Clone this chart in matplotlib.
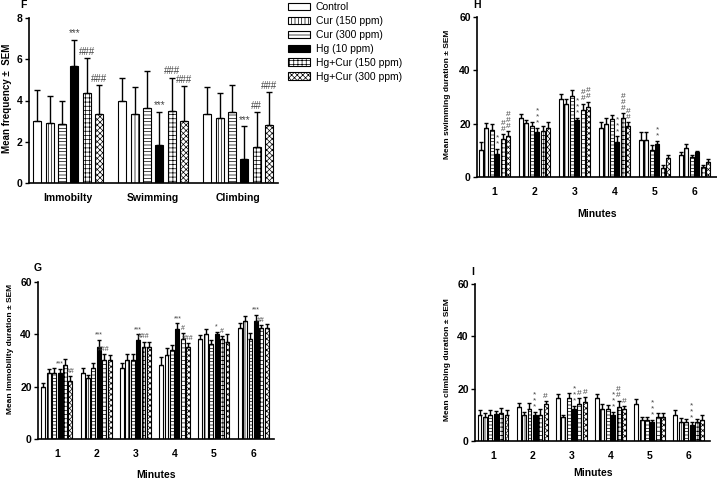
import matplotlib
matplotlib.use('Agg')
import matplotlib.pyplot as plt
import numpy as np
from matplotlib.patches import Patch

plt.rcParams['font.family'] = ['Liberation Sans', 'DejaVu Sans']
plt.rcParams['hatch.linewidth'] = 0.5

# ---------------- data ----------------
series = ['Control', 'Cur (150 ppm)', 'Cur (300 ppm)', 'Hg (10 ppm)',
          'Hg+Cur (150 ppm)', 'Hg+Cur (300 ppm)']

# Panel F: mean frequency
f_categories = ['Immobilty', 'Swimming', 'Climbing']
f_means = [[3.0, 4.0, 3.35],
           [2.9, 3.35, 3.15],
           [2.85, 3.65, 3.45],
           [5.65, 1.85, 1.15],
           [4.35, 3.5, 1.75],
           [3.35, 3.0, 2.8]]
f_sems = [[1.5, 1.1, 1.3],
          [1.3, 1.3, 1.2],
          [1.12, 1.8, 1.3],
          [1.3, 1.6, 1.6],
          [1.7, 1.6, 1.7],
          [1.4, 1.7, 1.6]]
f_marks = [['', '', ''], ['', '', ''], ['', '', ''],
           ['***', '***', '***'],
           ['###', '###', '##'],
           ['###', '###', '###']]

minutes = ['1', '2', '3', '4', '5', '6']

# Panel H: swimming duration
h_means = [[10.3, 22.2, 29.2, 18.3, 14.0, 8.3],
           [18.2, 20.2, 27.3, 20.0, 14.0, 11.0],
           [17.8, 19.3, 30.3, 21.8, 10.3, 7.4],
           [8.8, 16.8, 21.3, 13.3, 12.3, 9.3],
           [14.4, 17.3, 25.2, 22.3, 3.5, 3.7],
           [15.4, 18.2, 26.2, 19.3, 7.3, 5.7]]
h_sems = [[2.7, 1.5, 1.8, 2.2, 3.0, 0.9],
          [2.0, 1.3, 2.0, 2.0, 3.0, 1.2],
          [2.2, 1.4, 2.5, 1.4, 1.7, 0.9],
          [1.7, 1.7, 1.0, 1.9, 1.3, 0.5],
          [1.8, 2.0, 2.3, 1.7, 1.1, 0.9],
          [1.9, 2.5, 2.1, 1.4, 1.0, 0.9]]
h_marks = [['']*6, ['']*6, ['']*6,
           ['**', '***', '***', '***', '**', ''],
           ['##', '', '##', '###', '', ''],
           ['###', '', '##', '##', '', '']]

# Panel G: immobility duration
g_means = [[20.0, 25.3, 27.3, 28.3, 38.2, 42.3],
           [25.3, 23.2, 30.2, 32.1, 40.1, 45.2],
           [25.3, 27.3, 30.2, 34.0, 36.3, 38.2],
           [25.3, 35.0, 38.0, 42.0, 40.1, 45.2],
           [28.3, 30.2, 35.3, 38.2, 38.2, 42.3],
           [22.3, 30.2, 35.3, 35.0, 37.2, 42.3]]
g_sems = [[1.5, 2.0, 1.7, 3.2, 1.5, 2.2],
          [1.5, 1.1, 2.3, 2.5, 1.9, 1.8],
          [2.0, 1.7, 2.3, 1.9, 1.5, 2.2],
          [1.5, 2.8, 2.0, 2.2, 0.9, 2.2],
          [2.3, 2.3, 1.9, 2.2, 1.2, 1.3],
          [1.7, 1.8, 1.9, 1.6, 2.8, 1.7]]
g_marks = [['']*6, ['']*6, ['']*6,
           ['***', '***', '***', '***', '*', '***'],
           ['', '###', '###', '#', '#', '##'],
           ['##', '', '', '###', '', '']]

# Panel I: climbing duration
i_means = [[9.9, 13.1, 16.3, 16.3, 14.1, 9.9],
           [9.0, 9.9, 9.0, 12.1, 8.0, 7.1],
           [9.9, 12.1, 16.3, 12.1, 8.0, 7.1],
           [10.2, 9.9, 12.1, 9.9, 7.1, 6.1],
           [10.8, 9.9, 14.0, 13.1, 9.0, 7.4],
           [9.9, 14.0, 15.0, 12.1, 9.0, 8.0]]
i_sems = [[1.9, 1.3, 1.7, 1.7, 1.8, 1.9],
          [1.6, 1.3, 0.9, 2.0, 1.0, 1.6],
          [1.9, 2.3, 1.9, 1.7, 1.0, 1.2],
          [1.4, 1.3, 1.3, 1.3, 0.9, 1.0],
          [1.7, 2.2, 2.3, 2.3, 1.6, 0.9],
          [1.9, 1.3, 1.7, 1.3, 1.6, 1.9]]
i_marks = [['']*6, ['']*6, ['']*6,
           ['', '***', '***', '***', '***', '***'],
           ['', '', '#', '##', '', ''],
           ['', '#', '#', '#', '', '']]

# ---------------- style ----------------
faces = ['white', 'white', 'white', 'black', 'white', 'white']
hatches = ['', '|||||', '-----', '', '++++', 'xxxxxx']
mark_color = '#444444'

W, H = 717, 480
fig = plt.figure(figsize=(W / 100, H / 100), dpi=100)


def rect(l, t, r, b):
    return [l / W, 1 - b / H, (r - l) / W, (b - t) / H]


def panel(r, cats, means, sems, marks, ymax, yticks, ylabel, slot, width,
          xlim, stack, msize, cap, ylab_x, ylab_y, xlabel=None,
          xlabelpad=10, ylab_size=6):
    ax = fig.add_axes(rect(*r))
    x = np.arange(len(cats))
    n = len(means)
    for i in range(n):
        xi = x + (i - (n - 1) / 2) * slot
        m = np.array(means[i])
        s = np.array(sems[i])
        ax.bar(xi, m, width, color=faces[i], edgecolor='black',
               hatch=hatches[i], linewidth=0.8, zorder=2)
        ax.errorbar(xi, m, yerr=[np.zeros(len(m)), s], fmt='none',
                    ecolor='black', elinewidth=1.0, capsize=cap,
                    capthick=1.0, zorder=3)
        for j, t in enumerate(marks[i]):
            if not t:
                continue
            y = m[j] + s[j] + ymax * 0.008
            txt = '\n'.join(t) if stack else t
            ax.text(xi[j], y, txt, ha='center', va='bottom',
                    fontsize=msize, color=mark_color,
                    linespacing=0.8 if stack else 1.2)
    ax.set_xlim(*xlim)
    ax.set_ylim(0, ymax)
    ax.set_xticks(x)
    ax.set_xticklabels(cats, fontsize=7.5, fontweight='bold')
    ax.set_yticks(yticks)
    ax.set_yticklabels([str(v) for v in yticks], fontsize=7.5,
                       fontweight='bold')
    ax.tick_params(axis='x', length=0, pad=7)
    ax.tick_params(axis='y', length=3, width=1, pad=1.5)
    for sp in ['top', 'right']:
        ax.spines[sp].set_visible(False)
    for sp in ['left', 'bottom']:
        ax.spines[sp].set_linewidth(1.2)
    ax.set_ylabel(ylabel, fontsize=ylab_size, fontweight='bold')
    ax.yaxis.set_label_coords(ylab_x / W, 1 - ylab_y / H,
                              transform=fig.transFigure)
    if xlabel:
        ax.set_xlabel(xlabel, fontsize=7.5, fontweight='bold',
                      labelpad=xlabelpad)
    return ax


# Panel F
panel((29, 18, 278, 183), f_categories, f_means, f_sems, f_marks, 8,
      [0, 2, 4, 6, 8], 'Mean frequency \u00b1  SEM', 0.145, 0.095,
      (-0.46, 2.47), False, 7, 2.5, 12, 98, ylab_size=7)
fig.text(23 / W, 1 - 5 / H, 'F', fontsize=7.5, fontweight='bold',
         ha='center', va='center')

# Panel H
panel((477, 17, 717, 177), minutes, h_means, h_sems, h_marks, 60,
      [0, 20, 40, 60], 'Mean swimming duration \u00b1 SEM', 0.138, 0.1,
      (-0.44, 5.56), True, 6, 1.5, 451, 94, 'Minutes', 9)
fig.text(477 / W, 1 - 5 / H, 'H', fontsize=7.5, fontweight='bold',
         ha='center', va='center')

# Panel G
panel((38, 282, 274, 439), minutes, g_means, g_sems, g_marks, 60,
      [0, 20, 40, 60], 'Mean immobility duration \u00b1 SEM', 0.138, 0.1,
      (-0.48, 5.53), False, 5, 1.5, 14, 349, 'Minutes', 8)
fig.text(38 / W, 1 - 268 / H, 'G', fontsize=7.5, fontweight='bold',
         ha='center', va='center')

# Panel I
panel((475, 284, 710, 441), minutes, i_means, i_sems, i_marks, 60,
      [0, 20, 40, 60], 'Mean climbing duration \u00b1 SEM', 0.138, 0.1,
      (-0.46, 5.54), True, 6, 1.5, 451, 360, 'Minutes', 5)
fig.text(473 / W, 1 - 272 / H, 'I', fontsize=7.5, fontweight='bold',
         ha='center', va='center')

# Legend
handles = [Patch(facecolor=faces[i], edgecolor='black', hatch=hatches[i],
                 linewidth=0.8) for i in range(len(series))]
fig.legend(handles, series, loc='upper left',
           bbox_to_anchor=(286 / W, 1 - 0 / H), frameon=False,
           fontsize=7.5, handlelength=2.1, handleheight=0.75,
           handletextpad=0.55, labelspacing=0.38, borderaxespad=0,
           borderpad=0.2)

fig.savefig('out.png', dpi=100)
